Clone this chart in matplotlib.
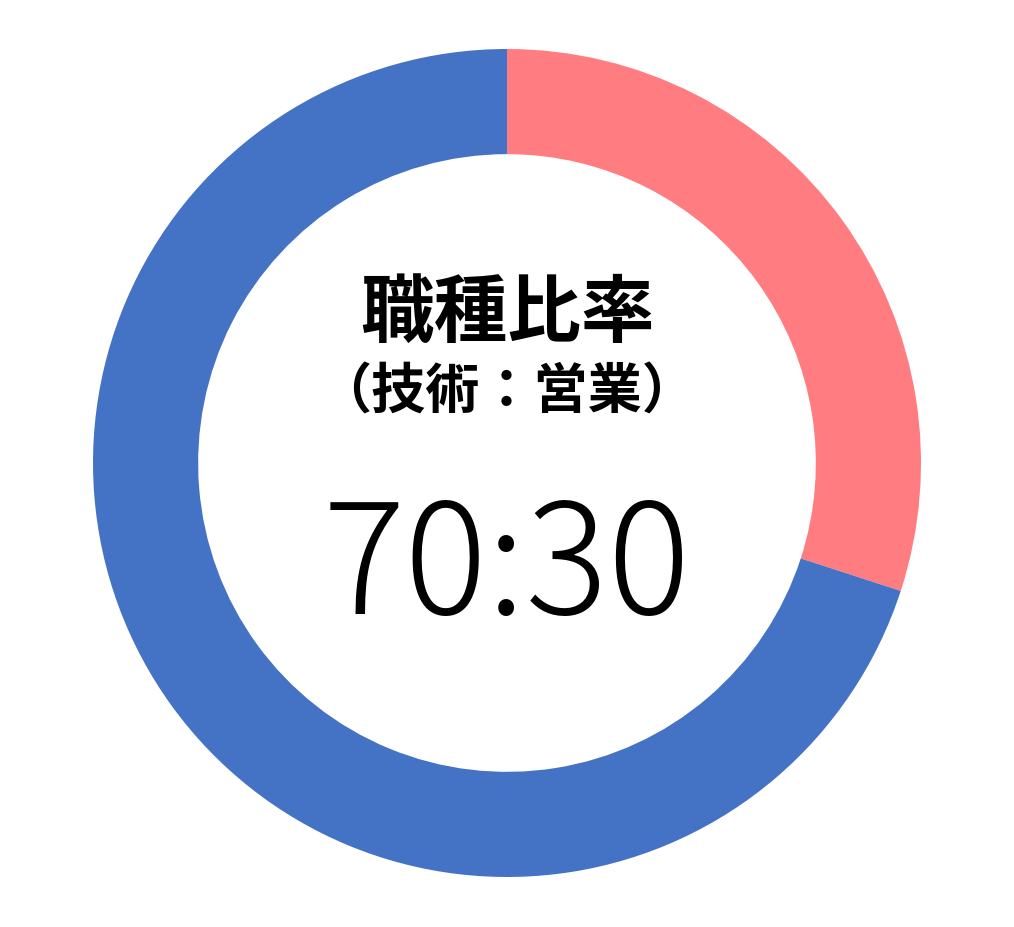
import matplotlib
matplotlib.use('Agg')
import matplotlib.pyplot as plt

plt.rcParams['font.family'] = ['Noto Sans CJK JP', 'DejaVu Sans']

# 職種比率（営業が12時から時計回り）
labels = ['営業', '技術']
values = [30, 70]
colors = ['#FF7C80', '#4472C4']
title = '職種比率'
subtitle = '（技術：営業）'
ratio_text = '70:30'

fig = plt.figure(figsize=(10.14, 9.28), dpi=100)
ax = fig.add_axes([0, 0, 1, 1])

ax.pie(values, colors=colors, startangle=90, counterclock=False,
       radius=1.0, wedgeprops=dict(width=0.254, edgecolor='none'))

ax.set_xlim(-507 / 414, 507 / 414)
ax.set_ylim(-464 / 414, 464 / 414)
ax.axis('off')

ax.text(0, 0.36, title, ha='center', va='center', fontsize=53, fontweight='bold')
ax.text(0, 0.172, subtitle, ha='center', va='center', fontsize=39, fontweight='bold')
ax.text(0, -0.258, ratio_text, ha='center', va='center', fontsize=111, fontweight='light')

fig.savefig('out.png', dpi=100)
